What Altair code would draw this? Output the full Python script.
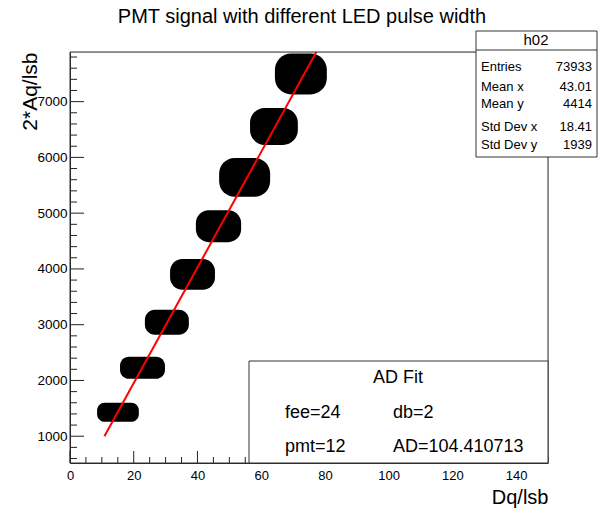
import altair as alt
import pandas as pd

FONT = "Liberation Sans"

# ---- data ----
cluster_xmin = [8.5, 15.7, 23.5, 31.4, 39.5, 46.8, 56.5, 64.3]
cluster_xmax = [21.6, 29.8, 37.3, 45.5, 53.7, 62.8, 71.5, 80.6]
cluster_ymin = [1260, 2030, 2820, 3625, 4480, 5296, 6224, 7129]
cluster_ymax = [1600, 2425, 3267, 4176, 5054, 5991, 6887, 7864]

fit_x = [10.8, 77.3]
fit_y = [1000, 7890]

x_labels = [0, 20, 40, 60, 80, 100, 120, 140]
y_labels = [1000, 2000, 3000, 4000, 5000, 6000, 7000]
x_minor = [v for v in range(0, 151, 5) if v % 20 != 0]
y_minor = [v for v in range(600, 7801, 200) if v % 1000 != 0]

stat_names = ["Entries", "Mean x", "Mean y", "Std Dev x", "Std Dev y"]
stat_values = ["73933", "43.01", "4414", "18.41", "1939"]

X_DOMAIN = [0, 150]
Y_DOMAIN = [520, 7890]
W, H = 478, 411

xs = alt.Scale(domain=X_DOMAIN, nice=False, zero=False)
ys = alt.Scale(domain=Y_DOMAIN, nice=False, zero=False)

clusters = pd.DataFrame({"x0": cluster_xmin, "x1": cluster_xmax,
                         "y0": cluster_ymin, "y1": cluster_ymax})
fit = pd.DataFrame({"x": fit_x, "y": fit_y})
dummy = pd.DataFrame({"a": [0]})

x_axis = alt.Axis(values=x_labels, ticks=False, grid=False, domainColor="#222", format="d",
                  labelFont=FONT, labelFontSize=13, labelColor="black", labelPadding=6,
                  labelFlush=False,
                  title="Dq/lsb", titleFont=FONT, titleFontSize=20, titleFontWeight="normal",
                  titleColor="black", titleX=W, titleY=40, titleAlign="right",
                  titleBaseline="alphabetic", titleAnchor="end")
y_axis = alt.Axis(values=y_labels, ticks=False, grid=False, domainColor="#222", format="d",
                  labelFont=FONT, labelFontSize=13.5, labelColor="black", labelPadding=3,
                  labelFlush=False,
                  title="2*Aq/lsb", titleFont=FONT, titleFontSize=21, titleFontWeight="normal",
                  titleColor="black", titleAngle=270, titleX=-34, titleY=0,
                  titleAlign="right", titleBaseline="alphabetic", titleAnchor="end")

radius_expr = ("min(scale('y', datum.y0) - scale('y', datum.y1), "
               "scale('x', datum.x1) - scale('x', datum.x0)) * 0.4")

blobs = alt.Chart(clusters).mark_rect(color="black", cornerRadius=alt.expr(radius_expr)).encode(
    x=alt.X("x0:Q", scale=xs, axis=x_axis),
    x2="x1:Q",
    y=alt.Y("y0:Q", scale=ys, axis=y_axis),
    y2="y1:Q",
)

line = alt.Chart(fit).mark_line(color="#ff0000", strokeWidth=2).encode(
    x=alt.X("x:Q", scale=xs, axis=x_axis),
    y=alt.Y("y:Q", scale=ys, axis=y_axis),
)

def xticks(vals, length):
    return alt.Chart(pd.DataFrame({"t": vals})).mark_rule(color="#222", strokeWidth=1).encode(
        x=alt.X("t:Q", scale=xs, axis=x_axis), y=alt.value(H), y2=alt.value(H - length))

def yticks(vals, length):
    return alt.Chart(pd.DataFrame({"t": vals})).mark_rule(color="#222", strokeWidth=1).encode(
        y=alt.Y("t:Q", scale=ys, axis=y_axis), x=alt.value(0), x2=alt.value(length))

ticks = [xticks(x_labels, 12), xticks(x_minor, 6), yticks(y_labels, 14), yticks(y_minor, 7)]

def box(x0, x1, y0, y1, fill="white"):
    return alt.Chart(dummy).mark_rect(fill=fill, stroke="#333", strokeWidth=1).encode(
        x=alt.value(x0), x2=alt.value(x1), y=alt.value(y0), y2=alt.value(y1))

def txt(s, x, y, size, align="left"):
    return alt.Chart(dummy).mark_text(text=s, font=FONT, fontSize=size, color="black",
                                      align=align, baseline="middle").encode(
        x=alt.value(x), y=alt.value(y))

frame = alt.Chart(dummy).mark_rect(fillOpacity=0, stroke="#333", strokeWidth=1).encode(
    x=alt.value(0), x2=alt.value(W), y=alt.value(0), y2=alt.value(H))

# AD fit box
ad_box = box(179, W, 309, H)
ad_texts = [
    txt("AD Fit", 328, 326, 18, "center"),
    txt("fee=24", 215, 361, 18),
    txt("db=2", 323, 361, 18),
    txt("pmt=12", 215, 395, 18),
    txt("AD=104.410713", 323, 395, 18),
]

# stats box
st_box = box(406, 527, -21, 105)
st_sep = alt.Chart(dummy).mark_rule(color="#333").encode(
    x=alt.value(406), x2=alt.value(527), y=alt.value(-2))
st_rows_y = [15, 35, 52, 75, 93]
st_texts = [txt("h02", 466, -12, 15, "center")]
for name, val, yy in zip(stat_names, stat_values, st_rows_y):
    st_texts.append(txt(name, 411, yy, 13))
    st_texts.append(txt(val, 522, yy, 13, "right"))

title = txt("PMT signal with different LED pulse width", 232, -35, 20, "center")

chart = alt.layer(
    blobs, line, *ticks, frame, ad_box, *ad_texts, st_box, st_sep, *st_texts, title
).properties(
    width=W, height=H,
    autosize=alt.AutoSizeParams(type="none"),
    padding={"left": 70, "top": 52, "right": 54, "bottom": 46},
).configure_view(stroke=None).configure(background="white")

chart.save("out.html", embed_options={"renderer": "svg", "actions": False})
